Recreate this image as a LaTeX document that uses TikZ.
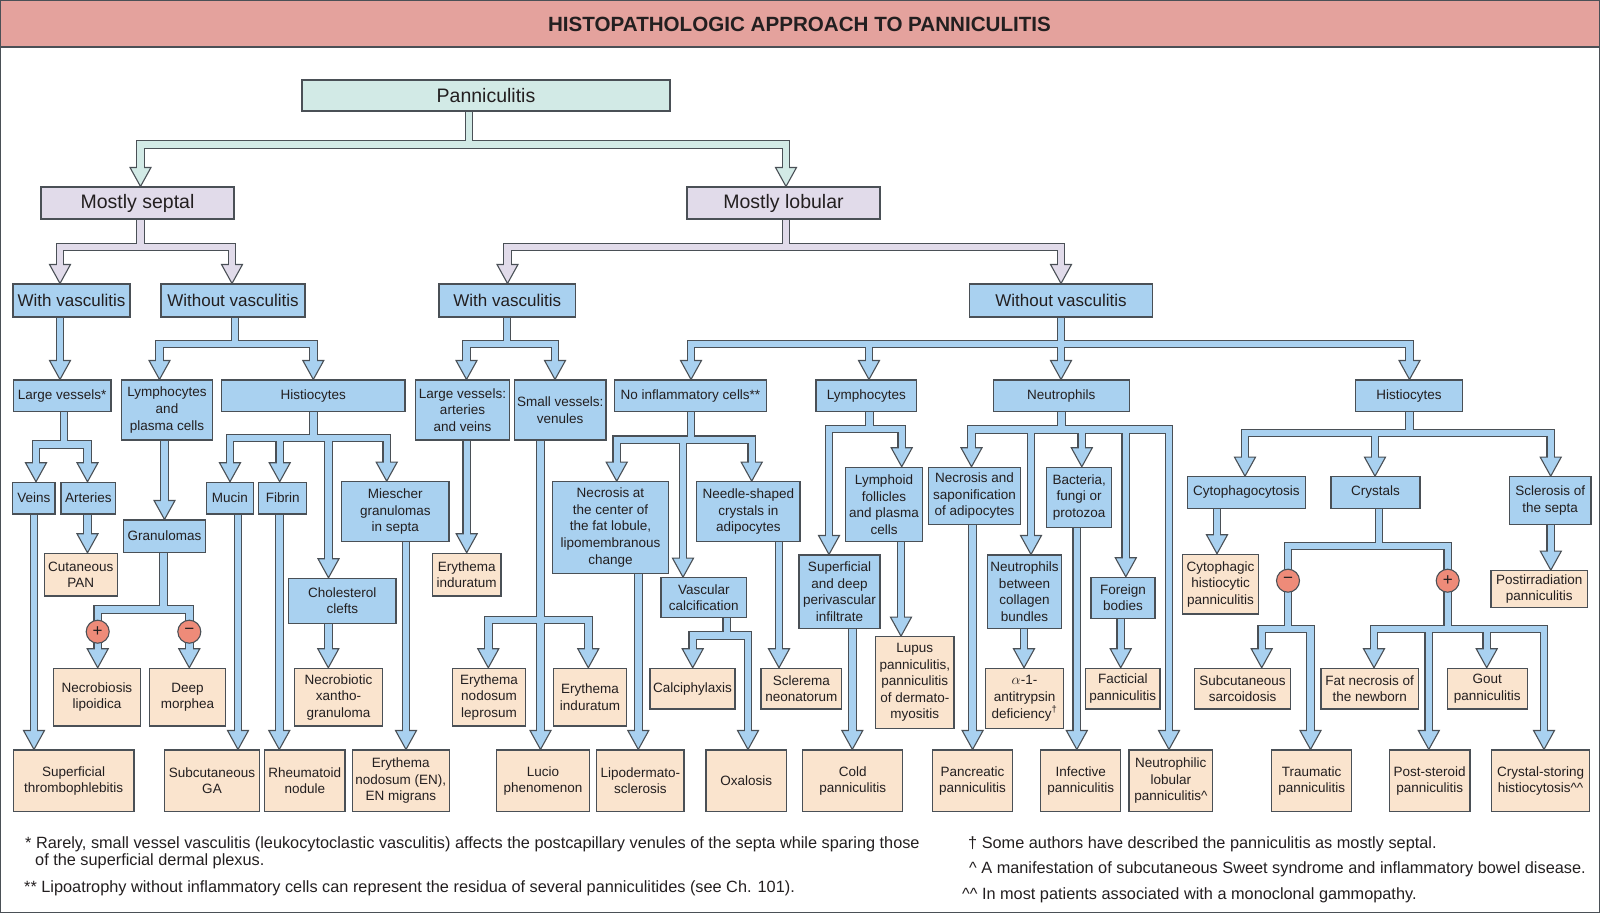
\documentclass[tikz,border=0pt]{standalone}
\usepackage{fontspec}
\setmainfont{Liberation Sans}
\usetikzlibrary{calc}
\pgfdeclarelayer{lshout}\pgfdeclarelayer{lheads}\pgfdeclarelayer{lshin}
\pgfsetlayers{lshout,lheads,lshin,main}
\definecolor{hdrC}{HTML}{E4A29D}
\definecolor{edgeC}{HTML}{4A5056}
\definecolor{txtC}{HTML}{231F20}
\definecolor{tealF}{HTML}{D2EAE6}
\definecolor{lavF}{HTML}{E1DBEA}
\definecolor{blueF}{HTML}{A9D1F0}
\definecolor{peachF}{HTML}{FAE4CE}
\definecolor{sgnF}{HTML}{EE8B79}
\tikzset{
  bxs/.style={draw=edgeC, line width=1.1pt, inner sep=0pt, align=center, text=txtC,
    font=\fontsize{13.5}{16.6}\selectfont},
  bl/.style={bxs, fill=blueF},
  pc/.style={bxs, fill=peachF},
  tl/.style={bxs, fill=tealF, font=\fontsize{19.5}{22}\selectfont},
  lv/.style={bxs, fill=lavF, font=\fontsize{19.5}{22}\selectfont},
  bl2/.style={bxs, fill=blueF, font=\fontsize{17}{20}\selectfont},
  fatout/.style={draw=edgeC, line width=8.8pt, line join=miter},
  fatin/.style={line width=6.4pt, line join=miter},
  headst/.style={draw=edgeC, line width=1.1pt, line join=miter},
  sgn/.style={circle, draw=edgeC, line width=1.1pt, fill=sgnF, minimum size=23pt, inner sep=0pt,
    text=txtC, font=\fontsize{17}{17}\selectfont},
  fnote/.style={anchor=base west, inner sep=0pt, text=txtC, font=\fontsize{16.3}{18}\selectfont}
}
\newcommand\mybox[7]{\node[#6, minimum width={(#4-#2)*1pt}, minimum height={(#5-#3)*1pt}] (#1) at ({(#2+#4)/2},{(#3+#5)/2}) {#7};}
\newcommand\farrow[4][blueF]{%
 \begin{pgfonlayer}{lshout}\draw[fatout] #2 -- ($(#3,0 |- #4.north)+(0,-17)$);\end{pgfonlayer}%
 \begin{pgfonlayer}{lshin}\draw[fatin,draw=#1] #2 -- ($(#3,0 |- #4.north)+(0,-17)$);\end{pgfonlayer}%
 \begin{pgfonlayer}{lheads}\draw[headst,fill=#1] ($(#3,0 |- #4.north)+(-10.5,-19)$) -- ($(#3,0 |- #4.north)+(10.5,-19)$) -- (#3,0 |- #4.north) -- cycle;\end{pgfonlayer}}
\begin{document}
\begin{tikzpicture}[x=1pt,y=-1pt]
\useasboundingbox (0,0) rectangle (1600,913);
\fill[hdrC] (0,0) rectangle (1600,47);
\draw[edgeC,line width=1.2pt] (0,47) -- (1600,47);
\node[font=\fontsize{20.6}{24}\selectfont\bfseries, text=txtC] (title) at (799.5,24) {HISTOPATHOLOGIC APPROACH TO PANNICULITIS};
\draw[edgeC,line width=1.3pt] (0.65,0.65) rectangle (1599.35,912.35);

% level 0-2
\mybox{pan}{302}{80}{670}{111}{tl}{Panniculitis}
\mybox{ms}{41}{187}{234}{219}{lv}{Mostly septal}
\mybox{ml}{687}{187}{880}{219}{lv}{Mostly lobular}
\mybox{wv1}{13}{284}{130}{317}{bl2}{With vasculitis}
\mybox{wov1}{161}{284}{305}{317}{bl2}{Without vasculitis}
\mybox{wv2}{439}{284}{575.5}{317}{bl2}{With vasculitis}
\mybox{wov2}{969.5}{284}{1152.5}{317}{bl2}{Without vasculitis}
% level 3
\mybox{lvs}{13.3}{380}{111}{411.7}{bl}{Large vessels*}
\mybox{lp}{121.7}{380}{212.3}{440}{bl}{Lymphocytes\\and\\plasma cells}
\mybox{hi1}{221.7}{380}{405}{411.7}{bl}{Histiocytes}
\mybox{lva}{415.7}{380}{509.3}{440}{bl}{Large vessels:\\arteries\\and veins}
\mybox{svv}{514.3}{380}{606}{440}{bl}{Small vessels:\\venules}
\mybox{ni}{614.3}{380}{766.7}{411.7}{bl}{No inflammatory cells**}
\mybox{ly}{816}{380}{916.7}{411.7}{bl}{Lymphocytes}
\mybox{ne}{993.3}{380}{1129.3}{411.7}{bl}{Neutrophils}
\mybox{hi2}{1355.7}{380}{1462.3}{411.7}{bl}{Histiocytes}
% septal lower
\mybox{vn}{12.7}{482.3}{55}{514}{bl}{Veins}
\mybox{ar}{61}{482.3}{115.7}{514}{bl}{Arteries}
\mybox{cp}{44.3}{553.3}{117.3}{596}{pc}{Cutaneous\\PAN}
\mybox{gr}{123.3}{520}{205.7}{552.3}{bl}{Granulomas}
\mybox{mu}{206.7}{482.3}{253.3}{514}{bl}{Mucin}
\mybox{fi}{258.7}{482.3}{306.7}{514}{bl}{Fibrin}
\mybox{mi}{341.7}{481.7}{449}{541.7}{bl}{Miescher\\granulomas\\in septa}
\mybox{cc}{288.7}{578.3}{396}{623.3}{bl}{Cholesterol\\clefts}
\mybox{nl}{53.3}{668.3}{140.7}{726}{pc}{Necrobiosis\\lipoidica}
\mybox{dm}{149.3}{668.3}{225.7}{726}{pc}{Deep\\morphea}
\mybox{nx}{294.3}{668.3}{382.7}{726}{pc}{Necrobiotic\\xantho-\\granuloma}
\mybox{st}{13.3}{750}{134}{811.7}{pc}{Superficial\\thrombophlebitis}
\mybox{sga}{164.7}{750}{259.3}{811.7}{pc}{Subcutaneous\\GA}
\mybox{rn}{264.7}{750}{345}{811.7}{pc}{Rheumatoid\\nodule}
\mybox{en}{352.3}{750}{449.3}{811.7}{pc}{Erythema\\nodosum (EN),\\EN migrans}
% lobular with vasculitis
\mybox{ei1}{432.3}{553.3}{501}{596}{pc}{Erythema\\induratum}
\mybox{enl}{452.3}{668.3}{525.7}{726}{pc}{Erythema\\nodosum\\leprosum}
\mybox{ei2}{553.3}{668.3}{626.7}{726}{pc}{Erythema\\induratum}
\mybox{lu}{496.7}{750}{589.3}{811.7}{pc}{Lucio\\phenomenon}
% no inflammatory cells
\mybox{nc}{552.7}{481.7}{668.3}{573.3}{bl}{Necrosis at\\the center of\\the fat lobule,\\lipomembranous\\change}
\mybox{ns}{696.7}{481.7}{800}{541.7}{bl}{Needle-shaped\\crystals in\\adipocytes}
\mybox{vc}{661}{577.7}{746.7}{617.3}{bl}{Vascular\\calcification}
\mybox{ld}{596.7}{750}{684}{811.7}{pc}{Lipodermato-\\sclerosis}
\mybox{cal}{650}{668.3}{735}{709}{pc}{Calciphylaxis}
\mybox{ox}{706}{750}{786.7}{811.7}{pc}{Oxalosis}
\mybox{sn}{761}{668.3}{841.7}{709}{pc}{Sclerema\\neonatorum}
% lymphocytes
\mybox{lf}{845.7}{467.3}{922.3}{541.7}{bl}{Lymphoid\\follicles\\and plasma\\cells}
\mybox{sdp}{799}{555}{880}{628.3}{bl}{Superficial\\and deep\\perivascular\\infiltrate}
\mybox{lup}{875.7}{636.7}{954}{728.3}{pc}{Lupus\\panniculitis,\\panniculitis\\of dermato-\\myositis}
\mybox{cold}{802.7}{750}{902.7}{811.7}{pc}{Cold\\panniculitis}
% neutrophils
\mybox{nsa}{928.3}{467.3}{1020.7}{524.3}{bl}{Necrosis and\\saponification\\of adipocytes}
\mybox{bf}{1046.7}{467.3}{1111.7}{527.7}{bl}{Bacteria,\\fungi or\\protozoa}
\mybox{nbc}{987.3}{555}{1061.7}{628.3}{bl}{Neutrophils\\between\\collagen\\bundles}
\mybox{fb}{1091}{577.3}{1155}{618.3}{bl}{Foreign\\bodies}
\mybox{pp}{932.3}{750}{1012.7}{811.7}{pc}{Pancreatic\\panniculitis}
\mybox{a1}{985.7}{668.3}{1063.3}{728.3}{pc}{$\alpha$-1-\\antitrypsin\\deficiency\textsuperscript{†}}
\mybox{inf}{1040.7}{750}{1120.7}{811.7}{pc}{Infective\\panniculitis}
\mybox{fac}{1085.7}{668.3}{1160}{709}{pc}{Facticial\\panniculitis}
\mybox{nlp}{1129}{750}{1212.7}{811.7}{pc}{Neutrophilic\\lobular\\panniculitis\textasciicircum}
% histiocytes lobular
\mybox{cy}{1187.3}{476.7}{1305.3}{508.3}{bl}{Cytophagocytosis}
\mybox{cr}{1331}{476.7}{1420}{508.3}{bl}{Crystals}
\mybox{sc}{1509.3}{476.7}{1591}{524.3}{bl}{Sclerosis of\\the septa}
\mybox{chp}{1182.7}{554.3}{1258.3}{614}{pc}{Cytophagic\\histiocytic\\panniculitis}
\mybox{pir}{1491}{570.7}{1587.3}{607.3}{pc}{Postirradiation\\panniculitis}
\mybox{ss}{1194.3}{668.3}{1290.7}{709}{pc}{Subcutaneous\\sarcoidosis}
\mybox{tp}{1271.7}{750}{1351.7}{811.7}{pc}{Traumatic\\panniculitis}
\mybox{fn}{1321}{668.3}{1418.3}{709}{pc}{Fat necrosis of\\the newborn}
\mybox{go}{1447.3}{668.3}{1527.3}{709}{pc}{Gout\\panniculitis}
\mybox{ps}{1389.3}{750}{1470}{811.7}{pc}{Post-steroid\\panniculitis}
\mybox{cs}{1491.7}{750}{1589.3}{811.7}{pc}{Crystal-storing\\histiocytosis\textasciicircum\textasciicircum}

% sign circles
\node[sgn] (g1) at (97.7,631.7) {+};
\node[sgn] (g2) at (189.3,631.7) {−};
\node[sgn] (g3) at (1288,580.7) {−};
\node[sgn] (g4) at (1447.7,580.7) {+};

% connectors: top
\farrow[tealF]{(469,0 |- pan.center) -- (469,144.5) -- (140.5,144.5)}{140.5}{ms}
\farrow[tealF]{(469,0 |- pan.center) -- (469,144.5) -- (786,144.5)}{786}{ml}
\farrow[lavF]{(140.5,0 |- ms.center) -- (140.5,247) -- (60,247)}{60}{wv1}
\farrow[lavF]{(140.5,0 |- ms.center) -- (140.5,247) -- (232,247)}{232}{wov1}
\farrow[lavF]{(786,0 |- ml.center) -- (786,247) -- (507.5,247)}{507.5}{wv2}
\farrow[lavF]{(786,0 |- ml.center) -- (786,247) -- (1061,247)}{1061}{wov2}
% level 3
\farrow{(60,0 |- wv1.center)}{60}{lvs}
\farrow{(235,0 |- wov1.center) -- (235,344) -- (159.5,344)}{159.5}{lp}
\farrow{(235,0 |- wov1.center) -- (235,344) -- (313.3,344)}{313.3}{hi1}
\farrow{(507,0 |- wv2.center) -- (507,344) -- (466.5,344)}{466.5}{lva}
\farrow{(507,0 |- wv2.center) -- (507,344) -- (555,344)}{555}{svv}
\farrow{(1061,0 |- wov2.center) -- (1061,344) -- (691,344)}{691}{ni}
\farrow{(1061,0 |- wov2.center) -- (1061,344) -- (869,344)}{869}{ly}
\farrow{(1061,0 |- wov2.center)}{1061}{ne}
\farrow{(1061,0 |- wov2.center) -- (1061,344) -- (1409.5,344)}{1409.5}{hi2}
% septal
\farrow{(64,0 |- lvs.center) -- (64,444.5) -- (36,444.5)}{36}{vn}
\farrow{(64,0 |- lvs.center) -- (64,444.5) -- (87.5,444.5)}{87.5}{ar}
\farrow{(87.5,0 |- ar.center)}{87.5}{cp}
\farrow{(34,0 |- vn.center)}{34}{st}
\farrow{(164.5,0 |- lp.center)}{164.5}{gr}
\farrow{(163.5,0 |- gr.center) -- (163.5,609.5) -- (97.7,609.5)}{97.7}{nl}
\farrow{(163.5,0 |- gr.center) -- (163.5,609.5) -- (189.3,609.5)}{189.3}{dm}
\farrow{(313.3,0 |- hi1.center) -- (313.3,438) -- (230,438)}{230}{mu}
\farrow{(313.3,0 |- hi1.center) -- (313.3,438) -- (279.7,438)}{279.7}{fi}
\farrow{(313.3,0 |- hi1.center) -- (313.3,438) -- (328.5,438)}{328.5}{cc}
\farrow{(313.3,0 |- hi1.center) -- (313.3,438) -- (386.7,438)}{386.7}{mi}
\farrow{(238,0 |- mu.center)}{238}{sga}
\farrow{(279.3,0 |- fi.center)}{279.3}{rn}
\farrow{(328.3,0 |- cc.center)}{328.3}{nx}
\farrow{(406,0 |- mi.center)}{406}{en}
% lobular with vasculitis
\farrow{(466.7,0 |- lva.center)}{466.7}{ei1}
\farrow{(540.5,0 |- svv.center) -- (540.5,620) -- (488.3,620)}{488.3}{enl}
\farrow{(540.5,0 |- svv.center) -- (540.5,620) -- (588.3,620)}{588.3}{ei2}
\farrow{(540.5,0 |- svv.center)}{540.5}{lu}
% no inflammatory cells
\farrow{(691,0 |- ni.center) -- (691,439.7) -- (616.7,439.7)}{616.7}{nc}
\farrow{(691,0 |- ni.center) -- (691,439.7) -- (751.7,439.7)}{751.7}{ns}
\farrow{(691,0 |- ni.center) -- (691,439.7) -- (683,439.7)}{683}{vc}
\farrow{(638.3,0 |- nc.center)}{638.3}{ld}
\farrow{(726.7,0 |- vc.center) -- (726.7,635.5) -- (692.7,635.5)}{692.7}{cal}
\farrow{(726.7,0 |- vc.center) -- (726.7,635.5) -- (748,635.5)}{748}{ox}
\farrow{(779,0 |- ns.center)}{779}{sn}
% lymphocytes
\farrow{(869.5,0 |- ly.center) -- (869.5,429) -- (829,429)}{829}{sdp}
\farrow{(869.5,0 |- ly.center) -- (869.5,429) -- (901.7,429)}{901.7}{lf}
\farrow{(901,0 |- lf.center)}{901}{lup}
\farrow{(852.3,0 |- sdp.center)}{852.3}{cold}
% neutrophils
\farrow{(1061.5,0 |- ne.center) -- (1061.5,429.5) -- (971.5,429.5)}{971.5}{nsa}
\farrow{(1061.5,0 |- ne.center) -- (1061.5,429.5) -- (1031,429.5)}{1031}{nbc}
\farrow{(1061.5,0 |- ne.center) -- (1061.5,429.5) -- (1081.8,429.5)}{1081.8}{bf}
\farrow{(1061.5,0 |- ne.center) -- (1061.5,429.5) -- (1125.8,429.5)}{1125.8}{fb}
\farrow{(1061.5,0 |- ne.center) -- (1061.5,429.5) -- (1169,429.5)}{1169}{nlp}
\farrow{(972.6,0 |- nsa.center)}{972.6}{pp}
\farrow{(1024,0 |- nbc.center)}{1024}{a1}
\farrow{(1076.8,0 |- bf.center)}{1076.8}{inf}
\farrow{(1120.7,0 |- fb.center)}{1120.7}{fac}
% histiocytes lobular
\farrow{(1409.5,0 |- hi2.center) -- (1409.5,433) -- (1245,433)}{1245}{cy}
\farrow{(1409.5,0 |- hi2.center) -- (1409.5,433) -- (1375,433)}{1375}{cr}
\farrow{(1409.5,0 |- hi2.center) -- (1409.5,433) -- (1550.7,433)}{1550.7}{sc}
\farrow{(1217,0 |- cy.center)}{1217}{chp}
\farrow{(1550.8,0 |- sc.center)}{1550.8}{pir}
\farrow{(1379,0 |- cr.center) -- (1379,546) -- (1288,546) -- (1288,629) -- (1261.7,629)}{1261.7}{ss}
\farrow{(1379,0 |- cr.center) -- (1379,546) -- (1288,546) -- (1288,629) -- (1310.5,629)}{1310.5}{tp}
\farrow{(1379,0 |- cr.center) -- (1379,546) -- (1447.7,546) -- (1447.7,629) -- (1374,629)}{1374}{fn}
\farrow{(1379,0 |- cr.center) -- (1379,546) -- (1447.7,546) -- (1447.7,629) -- (1428.8,629)}{1428.8}{ps}
\farrow{(1379,0 |- cr.center) -- (1379,546) -- (1447.7,546) -- (1447.7,629) -- (1486.7,629)}{1486.7}{go}
\farrow{(1379,0 |- cr.center) -- (1379,546) -- (1447.7,546) -- (1447.7,629) -- (1544,629)}{1544}{cs}

% footnotes
\node[fnote] (f1) at (25,848) {* Rarely, small vessel vasculitis (leukocytoclastic vasculitis) affects the postcapillary venules of the septa while sparing those};
\node[fnote] (f2) at (35,865) {of the superficial dermal plexus.};
\node[fnote] (f3) at (24,892) {** Lipoatrophy without inflammatory cells can represent the residua of several panniculitides (see Ch. 101).};
\node[fnote] (f4) at (968,848) {† Some authors have described the panniculitis as mostly septal.};
\node[fnote] (f5) at (969,873) {\textasciicircum\ A manifestation of subcutaneous Sweet syndrome and inflammatory bowel disease.};
\node[fnote] (f6) at (962,899) {\textasciicircum\textasciicircum\ In most patients associated with a monoclonal gammopathy.};
\end{tikzpicture}
\end{document}
